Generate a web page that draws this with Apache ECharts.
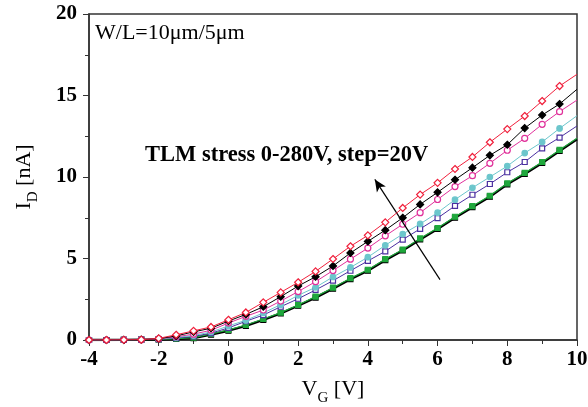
<!DOCTYPE html>
<html><head><meta charset="utf-8">
<script src="https://cdn.jsdelivr.net/npm/echarts@6/dist/echarts.min.js"></script>
<style>html,body{margin:0;padding:0;background:#fff}#c{width:588px;height:407px}</style>
</head><body><div id="c"></div>
<script>
const vg = [-4,-3.5,-3,-2.5,-2,-1.5,-1,-0.5,0,0.5,1,1.5,2,2.5,3,3.5,4,4.5,5,5.5,6,6.5,7,7.5,8,8.5,9,9.5,10];
const idRed     = [0,0,0.01,0.02,0.1,0.32,0.56,0.8,1.24,1.69,2.31,2.92,3.54,4.21,4.97,5.75,6.42,7.22,8.1,8.92,9.64,10.49,11.23,12.13,12.94,13.74,14.66,15.58,16.3];
const idBlack   = [0,0,0.01,0.02,0.08,0.25,0.5,0.72,1.16,1.57,2.04,2.66,3.31,3.88,4.54,5.34,6.05,6.74,7.5,8.32,9.06,9.83,10.57,11.33,11.98,13.0,13.8,14.48,15.38];
const idMagenta = [0,0,0.01,0.02,0.07,0.2,0.36,0.6,1.04,1.45,1.84,2.39,2.97,3.58,4.26,4.96,5.64,6.39,7.1,7.81,8.62,9.41,10.08,10.84,11.64,12.37,13.23,14.01,14.72];
const idCyan    = [0,0,0.01,0.02,0.06,0.15,0.28,0.49,0.86,1.21,1.66,2.17,2.74,3.23,3.87,4.45,5.08,5.81,6.5,7.12,7.81,8.61,9.34,10.0,10.67,11.47,12.15,12.98,13.76];
const idPurple  = [0,0,0.01,0.02,0.05,0.12,0.22,0.42,0.74,1.15,1.53,2.04,2.53,3.07,3.64,4.25,4.85,5.44,6.16,6.82,7.48,8.23,8.91,9.57,10.29,10.92,11.76,12.42,13.13];
const idGreen   = [0,0,0.01,0.02,0.04,0.08,0.15,0.37,0.62,0.92,1.29,1.68,2.15,2.66,3.21,3.79,4.31,4.96,5.55,6.23,6.87,7.56,8.21,8.85,9.61,10.25,10.92,11.66,12.37];
const idBlackSq = [0,0,0.01,0.02,0.03,0.06,0.12,0.33,0.57,0.87,1.24,1.63,2.1,2.6,3.15,3.73,4.25,4.9,5.49,6.17,6.81,7.5,8.15,8.79,9.55,10.19,10.86,11.6,12.31];
const xTicks = [-4,-2,0,2,4,6,8,10];
const yTicks = [0,5,10,15,20];
const arrowFrom = [6.07, 3.7];
const arrowTo = [4.2, 9.85];

function mk(vals){
  return vg.map((x,i)=> i===vg.length-1 ? {value:[x,vals[i]], symbol:'none'} : [x,vals[i]]);
}
function ser(name, vals, color, symbol, filled, size, lw, z){
  return {
    name, type:'line', data: mk(vals), symbol, symbolSize:size, showSymbol:true,
    lineStyle:{color, width:lw}, z,
    itemStyle:{color: filled?color:'#fff', borderColor:color, borderWidth:1.2},
    animation:false
  };
}
const serif = 'Liberation Serif, Times New Roman, serif';
const series = [
  ser('s7', idBlackSq, '#000000', 'rect', true, 5, 2.4, 2),
  ser('s6', idGreen, '#1fa83c', 'rect', true, 5, 1.2, 3),
  ser('s5', idPurple, '#4a2fa0', 'rect', false, 5, 1, 3),
  ser('s4', idCyan, '#6cc6cc', 'circle', true, 5.5, 1, 3),
  ser('s3', idMagenta, '#e0309a', 'circle', false, 6, 1, 3),
  ser('s2', idBlack, '#000000', 'diamond', true, 7, 1, 4),
  ser('s1', idRed, '#f0203c', 'diamond', false, 7, 1, 5)
];
series[0].markLine = {
  silent:true, symbol:['none','arrow'], symbolSize:[8,12],
  lineStyle:{color:'#000', width:1.2, type:'solid'}, label:{show:false},
  data:[[{coord:arrowFrom},{coord:arrowTo}]], animation:false
};
const chart = echarts.init(document.getElementById('c'), null, {renderer:'canvas'});
chart.setOption({
  animation:false,
  grid:{left:89, right:11, top:14, bottom:67, show:true, borderColor:'#333', borderWidth:1.5, containLabel:false, outerBoundsMode:'none'},
  xAxis:{
    type:'value', min:-4, max:10, interval:2,
    axisLine:{onZero:false, lineStyle:{color:'#333', width:1.5}},
    axisTick:{show:true, inside:false, length:6, lineStyle:{color:'#333'}},
    minorTick:{show:true, splitNumber:2, length:4, lineStyle:{color:'#333'}},
    splitLine:{show:false},
    axisLabel:{fontFamily:serif, fontWeight:'bold', fontSize:21, color:'#000', margin:9,
      formatter:v=> xTicks.includes(v)? String(v):''},
    name:'{m|V}{s|G}{m| [V]}', nameLocation:'middle', nameGap:33,
    nameTextStyle:{rich:{m:{fontFamily:serif, fontSize:22, color:'#000'}, s:{fontFamily:serif, fontSize:15, color:'#000', padding:[18,0,0,0]}}}
  },
  yAxis:{
    type:'value', min:0, max:20, interval:5,
    axisLine:{show:true, onZero:false, lineStyle:{color:'#333', width:1.5}},
    axisTick:{show:true, inside:false, length:6, lineStyle:{color:'#333'}},
    minorTick:{show:true, splitNumber:2, length:4, lineStyle:{color:'#333'}},
    splitLine:{show:false},
    axisLabel:{fontFamily:serif, fontWeight:'bold', fontSize:21, color:'#000', margin:12,
      formatter:v=> yTicks.includes(v)? String(v):''},
    name:'{m|I}{s|D}{m| [nA]}', nameLocation:'middle', nameGap:48, nameRotate:90,
    nameTextStyle:{rich:{m:{fontFamily:serif, fontSize:22, color:'#000'}, s:{fontFamily:serif, fontSize:15, color:'#000', padding:[18,0,0,0]}}}
  },
  graphic:[
    {type:'text', left:95, top:22, style:{text:'W/L=10\u03bcm/5\u03bcm', font:'22px '+serif, fill:'#000'}},
    {type:'text', left:145, top:144, style:{text:'TLM stress 0-280V, step=20V', font:'bold 22.5px '+serif, fill:'#000'}}
  ],
  series
});
</script></body></html>
